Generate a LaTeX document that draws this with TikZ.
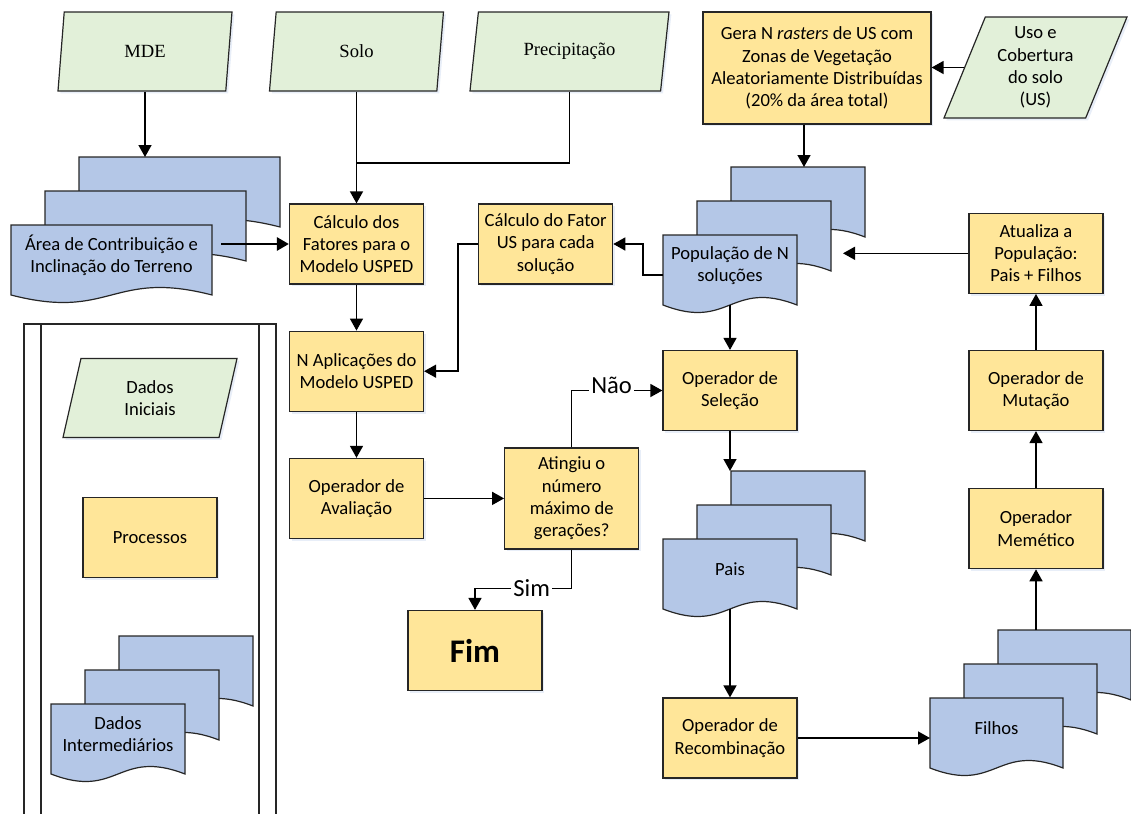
\documentclass[tikz,border=0pt]{standalone}
\usepackage{fontspec}
\setmainfont{Carlito}
\newfontfamily\timesface{Liberation Serif}
\usetikzlibrary{arrows.meta, positioning, shapes.geometric, shadows}
\definecolor{procfill}{HTML}{FFE699}
\definecolor{inputfill}{HTML}{E2F0D9}
\definecolor{docfill}{HTML}{B4C7E7}
\definecolor{edge}{HTML}{262626}
\tikzset{
	procbox/.style={draw=edge, line width=0.6pt, fill=procfill, minimum width=67pt,
		minimum height=40pt, align=center, inner sep=1pt,
		drop shadow={shadow xshift=1.2pt, shadow yshift=-1.2pt, fill=docfill, opacity=0.3}},
	inputbox/.style={trapezium, trapezium left angle=63, trapezium right angle=117,
		trapezium stretches body, draw=edge, line width=0.6pt, fill=inputfill,
		minimum width=87pt, minimum height=39.5pt, align=center, inner sep=0pt,
		drop shadow={shadow xshift=1.2pt, shadow yshift=-1.2pt, fill=docfill, opacity=0.3}},
	sheetbox/.style={minimum height=35pt, inner sep=0pt, outer sep=0pt, anchor=north west},
	docline/.style={draw=edge, line width=0.6pt, fill=docfill},
	doctext/.style={align=center, yshift=2.25pt},
	arr/.style={-{Triangle[length=6pt, width=6.5pt]}, line width=0.75pt},
	lbl/.style={fill=white, inner sep=1pt, font=\fontsize{12.3}{14}\selectfont},
}
\newcommand{\docsheet}[3]{%
	\node[sheetbox, minimum width=#3] (#1) at #2 {};
	\draw[docline] (#1.north west) -- (#1.north east) -- (#1.south east)
		.. controls ([yshift=13pt]#1.south) and ([yshift=-13pt]#1.south) .. (#1.south west) -- cycle;}

\begin{document}
\begin{tikzpicture}[x=0.5pt, y=-0.5pt, font=\fontsize{9.3}{11.1}\selectfont]
	\useasboundingbox (0,0) rectangle (1131,814);
	\node[inputbox] (mde) at (145,51.5) {\timesface MDE};
	\node[inputbox] (solo) at (356.5,51.5) {\timesface Solo};
	\node[inputbox, minimum width=99.5pt] (precip) at (569.5,51.5) {\timesface Precipitação};
	\node[inputbox, minimum width=91.5pt, minimum height=50.5pt] (uso) at (1035.5,67.5) {Uso e\\Cobertura\\do solo\\(US)};
	\node[procbox, minimum width=114pt, minimum height=56pt] (gera) at (817,68)
	{Gera N \textit{rasters} de US com\\Zonas de Vegetação\\Aleatoriamente Distribuídas\\(20\% da área total)};

	\docsheet{area3}{(79,157)}{100.5pt}
	\docsheet{area2}{(45,191)}{100.5pt}
	\docsheet{area1}{(11,225)}{100.5pt}
	\node[doctext] (areatxt) at (area1.center) {Área de Contribuição e\\Inclinação do Terreno};

	\docsheet{pop3}{(731,167)}{67pt}
	\docsheet{pop2}{(697,201)}{67pt}
	\docsheet{pop1}{(663,235)}{67pt}
	\node[doctext] (poptxt) at (pop1.center) {População de N\\soluções};

	\docsheet{pais3}{(731,471)}{67pt}
	\docsheet{pais2}{(697,505)}{67pt}
	\docsheet{pais1}{(663,539)}{67pt}
	\node[doctext] (paistxt) at (pais1.center) {Pais};

	\docsheet{filhos3}{(998,630)}{66.5pt}
	\docsheet{filhos2}{(964,664)}{66.5pt}
	\docsheet{filhos1}{(930,698)}{66.5pt}
	\node[doctext] (filhostxt) at (filhos1.center) {Filhos};

	\node[procbox] (fatores) at (356.5,244) {Cálculo dos\\Fatores para o\\Modelo USPED};
	\node[procbox, right=27pt of fatores] (fatorus) {Cálculo do Fator\\US para cada\\solução};
	\node[procbox, below=23pt of fatores] (napl) {N Aplicações do\\Modelo USPED};
	\node[procbox, below=23pt of napl] (aval) {Operador de\\Avaliação};
	\node[procbox, minimum height=50.5pt, right=40pt of aval] (ating) {Atingiu o\\número\\máximo de\\gerações?};
	\node[procbox, font=\bfseries\fontsize{16.5}{19}\selectfont] (fim) at (475,650.5) {Fim};
	\node[procbox] (selec) at (730,390.5) {Operador de\\Seleção};
	\node[procbox] (recomb) at (730,738) {Operador de\\Recombinação};
	\node[procbox] (mutac) at (1036,390.5) {Operador de\\Mutação};
	\node[procbox, below=28.5pt of mutac] (memet) {Operador\\Memético};
	\node[procbox, above=28pt of mutac] (atual) {Atualiza a\\População:\\Pais + Filhos};

	\draw[draw=edge, line width=0.6pt] (24,814) -- (24,324) -- (276,324) -- (276,814)
		(41,324) -- (41,814) (259,324) -- (259,814);
	\node[inputbox] (ini) at (150,398) {Dados\\Iniciais};
	\node[procbox] (procs) at (150,537.5) {Processos};
	\docsheet{dint3}{(119,636)}{67pt}
	\docsheet{dint2}{(85,670)}{67pt}
	\docsheet{dint1}{(51,704)}{67pt}
	\node[doctext] (dinttxt) at (dint1.center) {Dados\\Intermediários};

	\coordinate (join) at (356.5,163);
	\coordinate (areaout) at (221,244);
	\coordinate (popin) at (804,167);
	\coordinate (popback) at (843,254.5);
	\draw[arr] (mde.center |- mde.south) -- (mde.center |- area3.north);
	\draw[arr] (solo.center |- solo.south) -- (fatores.north);
	\draw[line width=0.75pt] (precip.center |- precip.south) |- (join);
	\draw[arr, line width=1.35pt] (areaout) -- (fatores.west);
	\draw[arr] (fatores.south) -- (napl.north);
	\draw[arr] (fatorus.west) -- ++(-20,0) |- (napl.east);
	\draw[arr] (napl.south) -- (aval.north);
	\draw[arr] (aval.east) -- (ating.west);
	\draw[arr] (ating.north) |- node[lbl, pos=0.72, anchor=base, yshift=-1.5pt] {Não} (selec.west);
	\draw[arr] (ating.south) -- ++(0,39) -| node[lbl, pos=0.207] {Sim} (fim.north);
	\draw[arr] (uso.left side) -- (uso.left side -| gera.east);
	\draw[arr] (popin |- gera.south) -- (popin);
	\draw[arr] ([yshift=-2.5pt]pop1.west) -- ++(-20,0) |- (fatorus.east);
	\draw[arr] (pop1.south) -- (selec.north);
	\draw[arr] (atual.west) -- (atual.west -| popback);
	\draw[arr] (selec.south) -- (selec.south |- pais3.north);
	\draw[arr] (pais1.south) -- (recomb.north);
	\draw[arr] (recomb.east) -- (recomb.east -| filhos1.west);
	\draw[arr] (memet.south |- filhos3.north) -- (memet.south);
	\draw[arr] (memet.north) -- (mutac.south);
	\draw[arr] (mutac.north) -- (atual.south);
\end{tikzpicture}
\end{document}
